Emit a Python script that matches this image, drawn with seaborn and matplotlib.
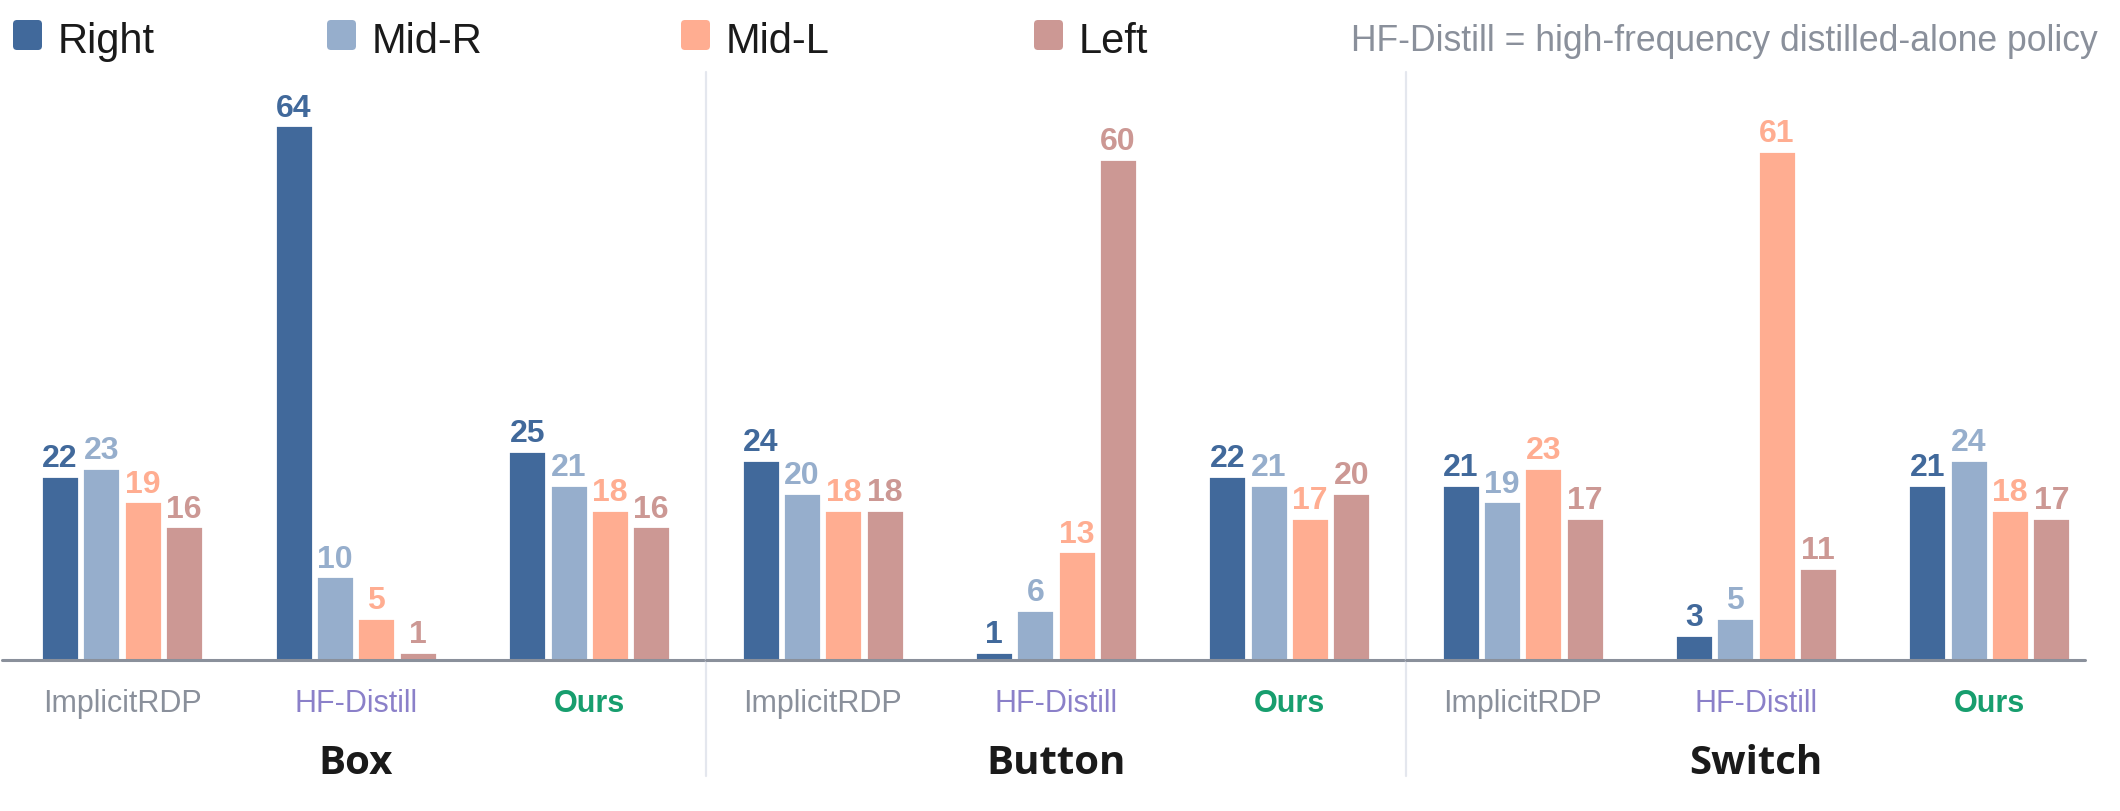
import pandas as pd
import matplotlib
matplotlib.use("Agg")
import matplotlib.pyplot as plt
from matplotlib.patches import FancyBboxPatch
import seaborn as sns

# ------------------------------------------------------------
# Data: final position counts per task / method / direction
# ------------------------------------------------------------
tasks = ["Box", "Button", "Switch"]
methods = ["ImplicitRDP", "HF-Distill", "Ours"]
directions = ["Right", "Mid-R", "Mid-L", "Left"]

# one value per (task, method), in task order then method order
right = [22, 64, 25, 24, 1, 22, 21, 3, 21]
mid_r = [23, 10, 21, 20, 6, 21, 19, 5, 24]
mid_l = [19, 5, 18, 18, 13, 17, 23, 61, 18]
left = [16, 1, 16, 18, 60, 20, 17, 11, 17]

colors = ["#41699b", "#96aecc", "#ffad91", "#cc9894"]
method_colors = ["#8a909b", "#8b80c9", "#179e6e"]
note_text = "HF-Distill = high-frequency distilled-alone policy"

rows = []
for d, vals in zip(directions, [right, mid_r, mid_l, left]):
    for i, v in enumerate(vals):
        rows.append({"task": tasks[i // 3], "method": methods[i % 3],
                     "direction": d, "value": v})
df = pd.DataFrame(rows)

# ------------------------------------------------------------
# Figure
# ------------------------------------------------------------
sns.set_style("white")
plt.rcParams["font.family"] = ["Liberation Sans", "DejaVu Sans"]

W, H = 2120, 812
fig = plt.figure(figsize=(W / 200, H / 200), dpi=200)

bottom = 1 - 661 / H
height = (661 - 73) / H
panels = [(2, 706, (-0.514, 2.5)), (706, 1406, (-0.5, 2.5)), (1406, 2085, (-0.5, 2.41))]
ymax = max(right + mid_r + mid_l + left) * 1.1

for k, task in enumerate(tasks):
    x0, x1, xl = panels[k]
    ax = fig.add_axes([x0 / W, bottom, (x1 - x0) / W, height])
    sub = df[df["task"] == task]
    sns.barplot(data=sub, x="method", y="value", hue="direction",
                order=methods, hue_order=directions, palette=colors,
                width=0.708, gap=0.08, saturation=1, legend=False, ax=ax)
    for cont, c in zip(ax.containers, colors):
        ax.bar_label(cont, fmt="%d", color=c, fontsize=11.5,
                     fontweight="bold", padding=1)
    ax.set_xlim(*xl)
    ax.set_ylim(0, ymax)
    ax.set_xlabel("")
    ax.set_ylabel("")
    ax.set_yticks([])
    ax.set_xticks(range(len(methods)))
    ax.set_xticklabels(methods, fontsize=11)
    ax.tick_params(axis="x", length=0, pad=10)
    for lab, c in zip(ax.get_xticklabels(), method_colors):
        lab.set_color(c)
        if lab.get_text() == "Ours":
            lab.set_fontweight("bold")
    sns.despine(ax=ax, left=True, bottom=True)
    ax.axhline(0, color="#8a909b", lw=1.1, zorder=5, clip_on=False)
    if k > 0:
        ax.axvline(xl[0], ymin=-0.197, ymax=1, color="#e4e7ee", lw=0.8,
                   clip_on=False, zorder=0)
    ax.text(1, -0.192, task, transform=ax.get_xaxis_transform(),
            ha="center", va="baseline", fontsize=14.5, fontweight="bold",
            color="#1a1a1a", family=["Open Sans", "DejaVu Sans"])

# ------------------------------------------------------------
# Legend row and note (overlay in pixel coordinates)
# ------------------------------------------------------------
top = fig.add_axes([0, 0, 1, 1], facecolor="none")
top.set_xlim(0, W)
top.set_ylim(H, 0)
top.axis("off")
legend_x = [13, 327, 681, 1034]
for x, d, c in zip(legend_x, directions, colors):
    top.add_patch(FancyBboxPatch((x + 4, 25), 21, 22,
                                 boxstyle="round,pad=4", fc=c, ec="none"))
    top.text(x + 45, 53, d, fontsize=15, color="#1a1a1a", va="baseline")
top.text(2098, 51, note_text, fontsize=12.8, color="#8a909b",
         ha="right", va="baseline")

fig.savefig("out.png", dpi=200)
